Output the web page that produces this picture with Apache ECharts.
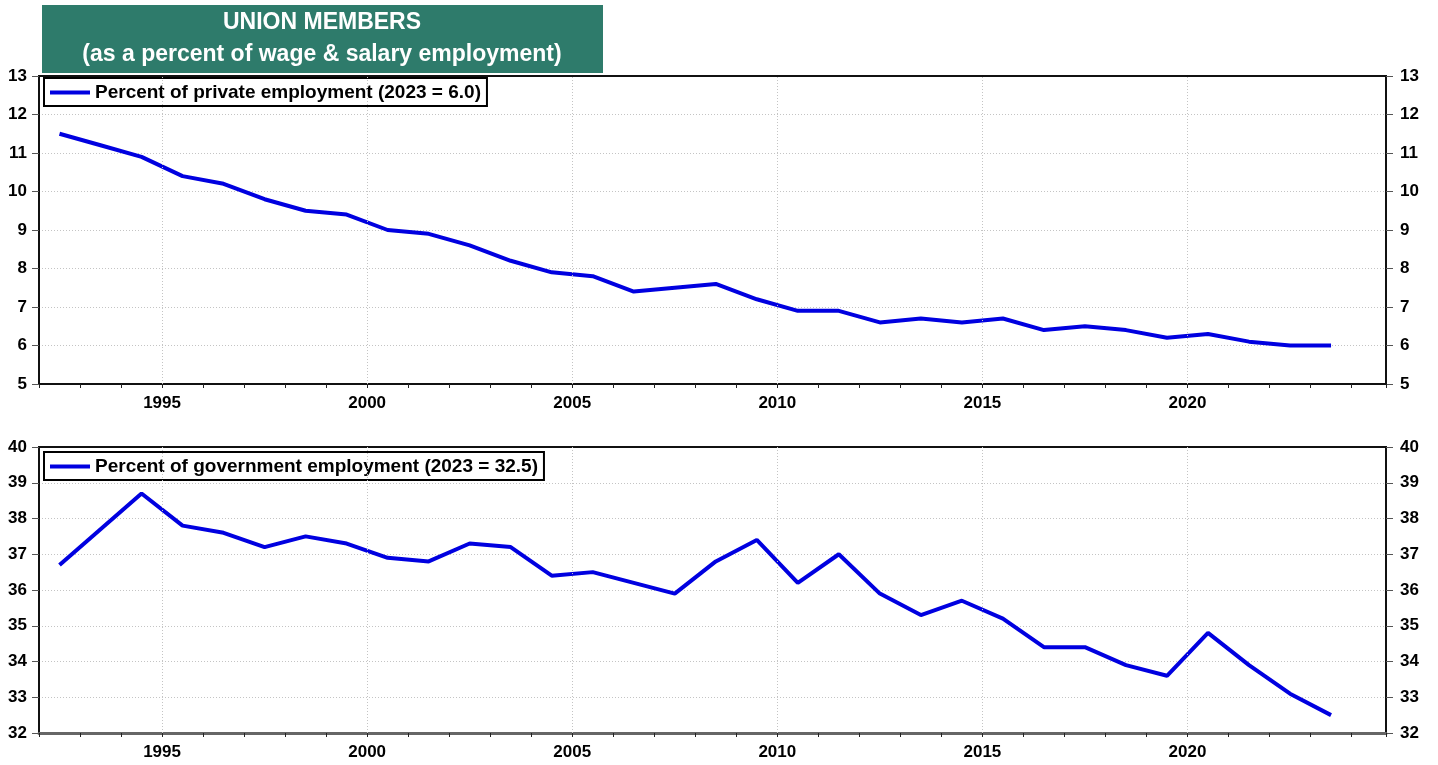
<!DOCTYPE html>
<html>
<head>
<meta charset="utf-8">
<script src="https://cdn.jsdelivr.net/npm/echarts@6/dist/echarts.min.js"></script>
<style>
html,body{margin:0;padding:0;background:#fff;}
#chart{width:1438px;height:765px;}
</style>
</head>
<body>
<div id="chart"></div>
<script>
// ---- data ----
const years = [1992,1993,1994,1995,1996,1997,1998,1999,2000,2001,2002,2003,2004,2005,2006,2007,2008,2009,2010,2011,2012,2013,2014,2015,2016,2017,2018,2019,2020,2021,2022,2023];
const privateRate = [11.5,11.2,10.9,10.4,10.2,9.8,9.5,9.4,9.0,8.9,8.6,8.2,7.9,7.8,7.4,7.5,7.6,7.2,6.9,6.9,6.6,6.7,6.6,6.7,6.4,6.5,6.4,6.2,6.3,6.1,6.0,6.0];
const governmentRate = [36.7,37.7,38.7,37.8,37.6,37.2,37.5,37.3,36.9,36.8,37.3,37.2,36.4,36.5,36.2,35.9,36.8,37.4,36.2,37.0,35.9,35.3,35.7,35.2,34.4,34.4,33.9,33.6,34.8,33.9,33.1,32.5];
const gridYears = [1995,2000,2005,2010,2015,2020];
const titleLines = ['UNION MEMBERS','(as a percent of wage & salary employment)'];
const privateName = 'Percent of private employment (2023 = 6.0)';
const governmentName = 'Percent of government employment (2023 = 32.5)';

// ---- chart ----
const FONT = '"Liberation Sans", Arial, sans-serif';
const chart = echarts.init(document.getElementById('chart'), null, {renderer:'canvas'});

const X_MIN = 1992, X_MAX = 2024.84;
const toPts = vals => years.map((y,i)=>[y+0.5, vals[i]]);
const GRID_COLOR = '#c4c4c4';
const LINE_COLOR = '#0000e0';

function xAxis(gridIndex, lineColor, lineWidth){
  return {
    type:'value', gridIndex, min:X_MIN, max:X_MAX, interval:1,
    axisLine:{show:true, onZero:false, lineStyle:{color:lineColor, width:lineWidth}},
    axisTick:{show:true, length:4, lineStyle:{color:'#222', width:1}},
    axisLabel:{show:true, margin:11, color:'#000', fontFamily:FONT, fontWeight:'bold', fontSize:17,
      formatter:v => (Math.abs(v%5)<1e-9 ? String(v) : '')},
    splitLine:{show:false}
  };
}
function yAxis(gridIndex, min, max, pos, split){
  return {
    type:'value', gridIndex, min, max, interval:1, position:pos,
    axisLine:{show:true, lineStyle:{color:'#111', width:2}},
    axisTick:{show:true, length:7, lineStyle:{color:'#555', width:1}},
    axisLabel:{show:true, margin:pos==='left'?12:14, color:'#000', fontFamily:FONT, fontWeight:'bold', fontSize:17},
    splitLine:{show:split, showMinLine:false, showMaxLine:false, lineStyle:{color:GRID_COLOR, type:[1,2], width:1}}
  };
}
function vLines(){
  return {
    silent:true, symbol:'none', animation:false,
    label:{show:false},
    lineStyle:{color:GRID_COLOR, type:[1,2], width:1},
    emphasis:{disabled:true},
    data: gridYears.map(y=>({xAxis:y}))
  };
}
function legend(name, top){
  return {
    data:[name], left:44, top, orient:'horizontal',
    backgroundColor:'#fff', borderColor:'#000', borderWidth:2, borderRadius:0,
    padding:[5,6,4,6], itemWidth:40, itemHeight:4, itemGap:5,
    icon:'rect', selectedMode:false,
    textStyle:{color:'#000', fontFamily:FONT, fontWeight:'bold', fontSize:19}
  };
}

const option = {
  animation:false,
  backgroundColor:'#fff',
  grid:[
    {left:39, right:52, top:76, height:308, show:true, borderColor:'#111', borderWidth:2, backgroundColor:'transparent'},
    {left:39, right:52, top:447, height:286, show:true, borderColor:'#111', borderWidth:2, backgroundColor:'transparent'}
  ],
  xAxis:[xAxis(0,'#111',2), xAxis(1,'#666',3)],
  yAxis:[
    yAxis(0,5,13,'left',true), yAxis(0,5,13,'right',false),
    yAxis(1,32,40,'left',true), yAxis(1,32,40,'right',false)
  ],
  legend:[legend(privateName,78), legend(governmentName,452)],
  series:[
    {name:privateName, type:'line', xAxisIndex:0, yAxisIndex:0, showSymbol:false, symbol:'none',
     data:toPts(privateRate), lineStyle:{color:LINE_COLOR, width:4}, itemStyle:{color:LINE_COLOR},
     markLine:vLines(), z:3},
    {name:governmentName, type:'line', xAxisIndex:1, yAxisIndex:2, showSymbol:false, symbol:'none',
     data:toPts(governmentRate), lineStyle:{color:LINE_COLOR, width:4}, itemStyle:{color:LINE_COLOR},
     markLine:vLines(), z:3}
  ],
  graphic:[
    {type:'rect', left:42, top:5, shape:{width:561, height:68}, style:{fill:'#2e7b6b'}, z:10},
    {type:'text', x:322, y:23, style:{text:titleLines[0], fill:'#fff', font:'bold 23px '+FONT, textAlign:'center', textVerticalAlign:'middle'}, z:11},
    {type:'text', x:322, y:55, style:{text:titleLines[1], fill:'#fff', font:'bold 23px '+FONT, textAlign:'center', textVerticalAlign:'middle'}, z:11}
  ]
};
chart.setOption(option);
</script>
</body>
</html>
